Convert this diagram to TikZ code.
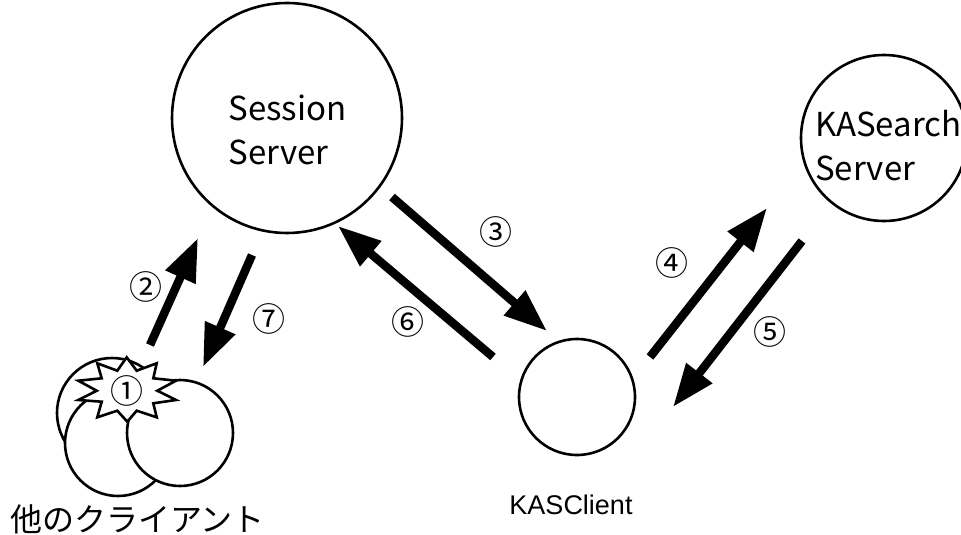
\documentclass[tikz,border=0pt]{standalone}
\usepackage{fontspec}
\setmainfont{Noto Sans CJK JP}
\newfontfamily\lab{Liberation Sans}
\usetikzlibrary{arrows.meta}
\tikzset{
  x=1pt,y=-1pt,
  srv/.style={circle,draw,line width=2.6pt,fill=white,inner sep=0pt,outer sep=0pt,minimum size=#1},
  flow/.style={line width=8.5pt,-{Triangle[length=43pt,width=31pt]}},
  num/.style={font=\fontsize{33}{33}\selectfont,inner sep=0pt},
  txt/.style={font=\fontsize{33}{44}\selectfont,align=left,inner sep=0pt},
}
\begin{document}
\begin{tikzpicture}
\useasboundingbox (0,0) rectangle (961,535);
\begin{scope}
\clip (0,0) rectangle (961,535);
\node[srv=230pt] (session) at (287,118) {};
\node[srv=166pt] (search) at (884,138) {};
\node[srv=116pt] (client) at (577,397) {};
\node[srv=110pt] (o1) at (112,413) {};
\node[srv=106pt] (o2) at (118,443) {};
\node[srv=106pt] (o3) at (180,433) {};
\draw[line width=2.6pt,fill=white,line join=miter]
 (126.7,357.3)--(136.7,370.7)--(156.7,363.3)--(153.3,378.3)--(176,380.7)--(157.3,390.7)--(176,400)--(153.3,403.3)--(156.7,417.3)--(136.7,410.7)--(127.3,421.7)--(117.3,410.7)--(97.3,417.3)--(101.7,401.7)--(78.3,400)--(96.7,390.7)--(78.3,380.7)--(101.7,378.3)--(97.3,363.3)--(117.3,370.7)--cycle;
\end{scope}
\node[txt] (tsession) at (287.5,130) {Session\\Server};
\node[txt,anchor=west] (tsearch) at (815,146) {KASearch\\Server};
\node[font=\lab\fontsize{27}{27}\selectfont,inner sep=0pt] (tclient) at (571,505) {KASClient};
\node[font=\fontsize{32}{32}\selectfont,inner sep=0pt,anchor=west] (tother) at (10,519) {他のクライアント};
\node[num] (n1) at (127,391) {①};
\node[num] (n2) at (146,287) {②};
\node[num] (n3) at (496,232) {③};
\node[num] (n4) at (672,263) {④};
\node[num] (n5) at (770,332) {⑤};
\node[num] (n6) at (408,322) {⑥};
\node[num] (n7) at (269,319) {⑦};
\coordinate (a2s) at (150,345); \coordinate (a2e) at (198,238);
\coordinate (a7s) at (252,255); \coordinate (a7e) at (203,367);
\coordinate (a3s) at (392,197); \coordinate (a3e) at (547,331);
\coordinate (a6s) at (493,357); \coordinate (a6e) at (338,226);
\coordinate (a4s) at (650,357); \coordinate (a4e) at (767,208);
\coordinate (a5s) at (802,241); \coordinate (a5e) at (673,407);
\draw[flow] (a2s) -- (a2e);
\draw[flow] (a7s) -- (a7e);
\draw[flow] (a3s) -- (a3e);
\draw[flow] (a6s) -- (a6e);
\draw[flow] (a4s) -- (a4e);
\draw[flow] (a5s) -- (a5e);
\end{tikzpicture}
\end{document}
